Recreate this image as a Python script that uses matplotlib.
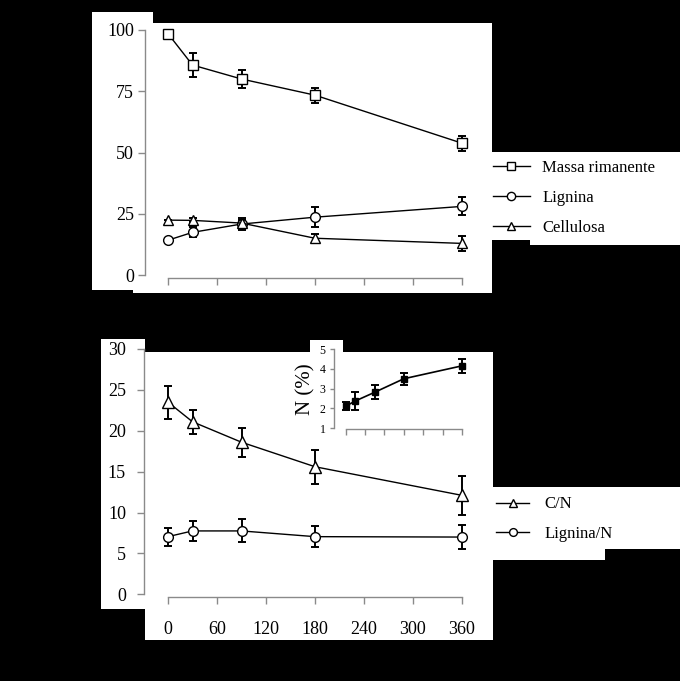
import matplotlib.pyplot as plt
from matplotlib.patches import Rectangle

W, H = 680, 681

# top panel: % remaining vs days
days = [0, 30, 90, 180, 360]
massa = [98.5, 85.7, 80.0, 73.4, 53.8]
massa_err = [0, 5.0, 3.5, 3.0, 3.0]
lignina = [14.2, 17.4, 20.8, 23.6, 28.0]
lignina_err = [0, 2.0, 2.5, 4.0, 3.7]
cellulosa = [22.4, 22.3, 21.2, 15.0, 12.9]
cellulosa_err = [0, 0.8, 1.2, 1.6, 3.0]

# bottom panel: ratios
cn = [23.5, 21.1, 18.6, 15.6, 12.1]
cn_err = [2.0, 1.5, 1.75, 2.1, 2.35]
lign_n = [7.05, 7.75, 7.75, 7.05, 7.0]
lign_n_err = [1.1, 1.25, 1.4, 1.25, 1.5]

# inset: N (%)
n_pct = [2.12, 2.38, 2.82, 3.5, 4.15]
n_pct_err = [0.22, 0.45, 0.35, 0.3, 0.35]

x_ticks = [0, 60, 120, 180, 240, 300, 360]

SERIF = ["Liberation Serif", "DejaVu Serif"]
GREY = "#8a8a8a"
plt.rcParams["font.family"] = SERIF


def fx(px):
    return px / W


def fy(py):
    return 1 - py / H


def white(x0, y0, x1, y1, color="white"):
    fig.add_artist(Rectangle((fx(x0), fy(y1)), fx(x1) - fx(x0), fy(y0) - fy(y1),
                             transform=fig.transFigure, facecolor=color,
                             edgecolor="none", zorder=0))


def make_axes(left, right, bottom, top):
    ax = fig.add_axes([fx(left), fy(bottom), fx(right) - fx(left), fy(top) - fy(bottom)])
    ax.patch.set_alpha(0)
    for s in ["top", "right"]:
        ax.spines[s].set_visible(False)
    for s in ["left", "bottom"]:
        ax.spines[s].set_color(GREY)
        ax.spines[s].set_linewidth(1)
    ax.tick_params(colors=GREY, labelcolor="black", width=1)
    return ax


def series(ax, y, err, marker, label, ms=7, mfc="white"):
    line, = ax.plot(days, y, color="black", lw=1, marker=marker, ms=ms,
                    mfc=mfc, mec="black", mew=1, label=label, clip_on=False, zorder=4)
    ax.errorbar(days, y, yerr=err, fmt="none", ecolor="black", elinewidth=1.4,
                capsize=3, capthick=1.4, clip_on=False, zorder=3)
    return line


fig = plt.figure(figsize=(W / 100, H / 100), dpi=100, facecolor="black")

# white patches
white(92, 12, 153, 290)
white(133, 23, 492, 293)
white(492, 152, 680, 240)
white(530, 240, 680, 245)
white(101, 339, 145, 609)
white(145, 352, 493, 640)
white(310, 340, 343, 352)
white(493, 487, 680, 549)
white(493, 549, 605, 560)

# ---- top panel
px_per_day = 294 / 360
ax1 = make_axes(145, 466, 278, 30)
ax1.set_xlim(-(168 - 145) / px_per_day, 360 + 4 / px_per_day)
ax1.set_ylim(-(278 - 275) / 2.45, 100)
ax1.spines["left"].set_bounds(0, 100)
ax1.spines["bottom"].set_bounds(0, 360)
ax1.set_yticks([0, 25, 50, 75, 100])
ax1.set_xticks(x_ticks)
ax1.set_xticklabels([])
ax1.tick_params(axis="y", length=5, pad=3, labelsize=13)
ax1.tick_params(axis="x", length=5)
h1 = series(ax1, massa, massa_err, "s", "Massa rimanente")
h2 = series(ax1, lignina, lignina_err, "o", "Lignina")
h3 = series(ax1, cellulosa, cellulosa_err, "^", "Cellulosa")
ax1.legend(handles=[h1, h2, h3], loc="center left",
           bbox_to_anchor=(fx(493), fy(198)), bbox_transform=fig.transFigure,
           frameon=False, fontsize=12, handlelength=2.2, handletextpad=0.75,
           labelspacing=0.85, borderpad=0, borderaxespad=0, markerscale=0.85)

# ---- bottom panel
ax2 = make_axes(144, 466, 597, 349)
ax2.set_xlim(-(168 - 144) / px_per_day, 360 + 4 / px_per_day)
ax2.set_ylim(-(597 - 594.3) / (245 / 30), 30)
ax2.spines["left"].set_bounds(0, 30)
ax2.spines["bottom"].set_bounds(0, 360)
ax2.set_yticks([0, 5, 10, 15, 20, 25, 30])
ax2.set_xticks(x_ticks)
ax2.tick_params(axis="y", length=5, pad=8, labelsize=13)
ax2.tick_params(axis="x", length=5, pad=12, labelsize=13)
g1 = series(ax2, cn, cn_err, "^", "C/N", ms=8)
g2 = series(ax2, lign_n, lign_n_err, "o", "Lignina/N")
ax2.legend(handles=[g1, g2], loc="center left",
           bbox_to_anchor=(fx(496), fy(519)), bbox_transform=fig.transFigure,
           frameon=False, fontsize=12, handlelength=2.0, handletextpad=0.9,
           labelspacing=0.8, borderpad=0, borderaxespad=0, markerscale=0.8)

# ---- inset
ipx = 116 / 360
ax3 = make_axes(334, 464, 429.3, 349)
ax3.set_xlim(-(345.7 - 334) / ipx, 360 + 2 / ipx)
ax3.set_ylim(1 - (429.3 - 428.3) / 19.83, 5)
ax3.spines["left"].set_bounds(1, 5)
ax3.spines["bottom"].set_bounds(0, 360)
ax3.set_yticks([1, 2, 3, 4, 5])
ax3.set_xticks(x_ticks)
ax3.set_xticklabels([])
ax3.tick_params(axis="y", length=3, pad=3, labelsize=8.5)
ax3.tick_params(axis="x", length=4)
ax3.plot(days, n_pct, color="black", lw=1.2, marker="s", ms=4.5,
         mfc="black", mec="black", clip_on=False, zorder=4)
ax3.errorbar(days, n_pct, yerr=n_pct_err, fmt="none", ecolor="black",
             elinewidth=1.4, capsize=3, capthick=1.4, clip_on=False, zorder=3)
ax3.set_ylabel("N (%)", fontsize=15, labelpad=3)

fig.savefig("out.png", dpi=100, facecolor="black")
